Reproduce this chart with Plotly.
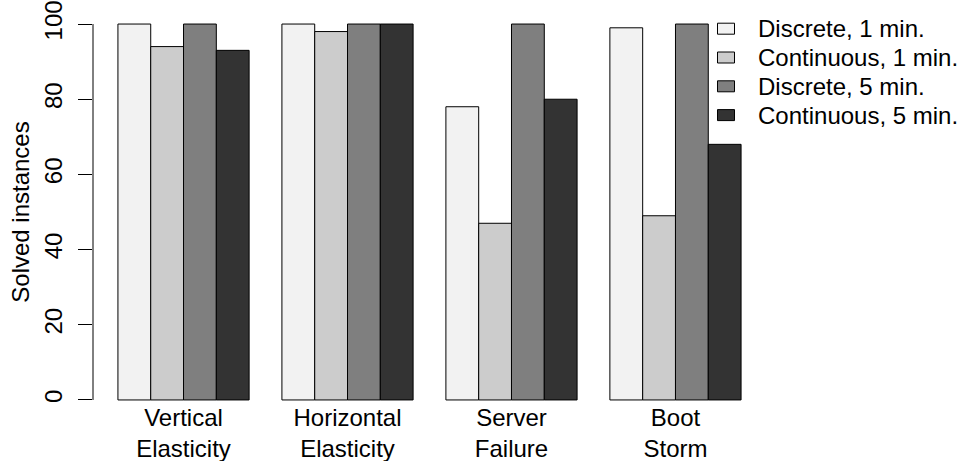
import plotly.graph_objects as go

categories = ["Vertical<br>Elasticity", "Horizontal<br>Elasticity", "Server<br>Failure", "Boot<br>Storm"]
series_names = ["Discrete, 1 min.", "Continuous, 1 min.", "Discrete, 5 min.", "Continuous, 5 min."]
discrete_1 = [100, 100, 78, 99]
continuous_1 = [94, 98, 47, 49]
discrete_5 = [100, 100, 100, 100]
continuous_5 = [93, 100, 80, 68]
y_ticks = [0, 20, 40, 60, 80, 100]

series_values = [discrete_1, continuous_1, discrete_5, continuous_5]
colors = ["#F2F2F2", "#CCCCCC", "#7F7F7F", "#333333"]

FONT = "Liberation Sans, Arial, sans-serif"
FS = 24
W, H = 958, 461
ML, MR, MT, MB = 93, 192, 9, 46
PW, PH = W - ML - MR, H - MT - MB

fig = go.Figure()
n_series = len(series_values)
group_centers = [1 + g * (n_series + 1) + n_series / 2 for g in range(len(categories))]
for j, (name, vals) in enumerate(zip(series_names, series_values)):
    xs = [1 + g * (n_series + 1) + j + 0.5 for g in range(len(categories))]
    fig.add_trace(go.Bar(
        x=xs, y=vals, width=1, name=name, showlegend=False,
        marker=dict(color=colors[j], line=dict(color="black", width=1)),
    ))

# legend drawn R-style (boxes + labels), positioned in pixels converted to paper units
def px_x(p):
    return (p - ML) / PW

def px_y(p):
    return (MT + PH - p) / PH

row0, row_step = 28.7, 28.8
for j, name in enumerate(series_names):
    cy = row0 + j * row_step
    fig.add_shape(type="rect", xref="paper", yref="paper",
                  x0=px_x(717.5), x1=px_x(734.5), y0=px_y(cy + 5.5), y1=px_y(cy - 5.5),
                  fillcolor=colors[j], line=dict(color="black", width=1))
    fig.add_annotation(xref="paper", yref="paper", x=px_x(756), y=px_y(cy),
                       xanchor="left", yanchor="middle", text=name, showarrow=False,
                       font=dict(size=FS, family=FONT, color="black"))

fig.update_layout(
    barmode="overlay",
    width=W, height=H,
    margin=dict(l=ML, r=MR, t=MT, b=MB, autoexpand=False),
    plot_bgcolor="white", paper_bgcolor="white",
    font=dict(family=FONT, size=FS, color="black"),
    showlegend=False,
    xaxis=dict(range=[0.24, 20.76], tickvals=group_centers, ticktext=categories,
               showline=False, showgrid=False, zeroline=False, ticks="", tickfont=dict(size=FS),
               ticklabelstandoff=-14, automargin=False),
    yaxis=dict(range=[-4, 104], tickvals=y_ticks, ticks="outside", ticklen=14, tickcolor="black",
               tickangle=-90, showline=False, showgrid=False, zeroline=False,
               ticklabelstandoff=6,
               title=dict(text="Solved instances", standoff=4, font=dict(size=FS)),
               tickfont=dict(size=FS), automargin=False),
)
fig.add_shape(type="line", xref="paper", yref="y", x0=0, x1=0, y0=y_ticks[0], y1=y_ticks[-1],
              line=dict(color="black", width=1))
fig.write_html("out.html", config={"displayModeBar": False},
               post_script="document.body.style.margin='0';document.body.style.overflow='hidden';")
